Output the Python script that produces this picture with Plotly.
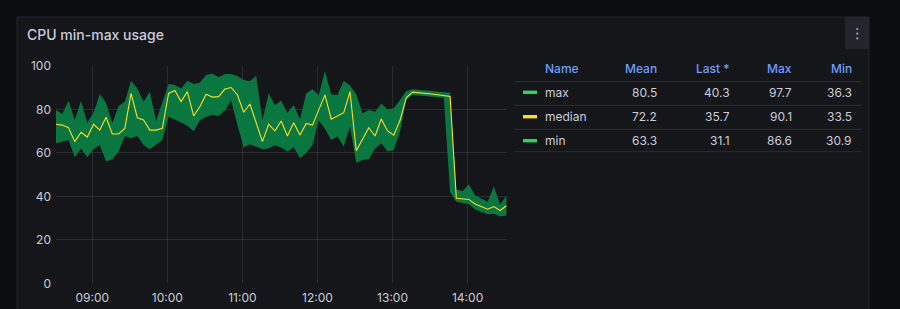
import plotly.graph_objects as go
import pandas as pd

# ---------------- data ----------------
start_time = "2024-01-01 08:31"
step_minutes = 5

median_vals = [73.2, 72.8, 71.6, 65.2, 69.5, 67.3, 73.2, 70.5, 76.4, 68.7,
               68.7, 71.3, 87.4, 76.2, 75.2, 70.5, 70.5, 71.3, 87.4, 88.7,
               83.6, 88.2, 77.0, 81.3, 87.0, 85.7, 85.9, 89.4, 90.1, 86.7,
               78.7, 82.5, 73.9, 65.2, 73.2, 70.2, 74.7, 67.8, 73.9, 68.2,
               73.6, 72.8, 79.8, 86.7, 75.5, 77.0, 78.5, 88.2, 61.0, 66.3,
               71.6, 67.8, 75.6, 70.1, 68.2, 75.0, 85.5, 88.0, 87.8, 87.5,
               87.1, 86.8, 86.4, 86.0, 39.1, 38.9, 38.6, 36.5, 35.2, 34.1,
               35.3, 33.5, 35.7]

max_vals = [79.8, 77.9, 84.0, 75.2, 84.0, 73.9, 78.5, 87.1, 83.1, 73.6,
            81.6, 83.6, 93.2, 89.7, 83.6, 88.2, 74.7, 83.6, 91.7, 91.3,
            89.7, 93.2, 91.7, 92.3, 95.9, 96.6, 94.8, 96.3, 96.3, 95.4,
            93.5, 93.0, 95.5, 75.0, 87.5, 82.0, 84.0, 78.5, 82.0, 75.5,
            87.4, 89.3, 86.7, 97.7, 87.0, 86.7, 93.2, 91.0, 87.0, 78.2,
            79.7, 79.0, 82.8, 80.1, 80.5, 84.4, 88.5, 89.3, 89.0, 88.8,
            88.5, 88.3, 88.0, 87.7, 43.0, 42.5, 45.5, 40.5, 39.0, 37.5,
            44.5, 36.3, 40.3]

min_vals = [64.4, 65.2, 66.0, 58.0, 62.0, 58.0, 61.7, 63.6, 56.0, 57.1,
            60.6, 67.8, 66.7, 67.8, 63.6, 61.7, 63.6, 65.9, 76.7, 75.5,
            74.0, 72.5, 70.0, 75.0, 76.5, 77.5, 77.0, 79.5, 84.0, 73.0,
            62.5, 64.0, 62.8, 61.7, 62.0, 63.5, 62.5, 60.6, 62.6, 57.5,
            60.0, 63.6, 75.0, 71.0, 66.0, 67.5, 63.0, 72.0, 55.5, 56.7,
            57.1, 62.0, 64.4, 60.6, 61.3, 69.8, 84.4, 86.6, 86.4, 86.2,
            86.0, 85.7, 85.4, 42.0, 37.5, 37.0, 36.5, 34.0, 33.0, 31.8,
            32.0, 30.9, 31.1]

legend_names = ["max", "median", "min"]
legend_headers = ["Name", "Mean", "Last *", "Max", "Min"]
legend_mean = ["80.5", "72.2", "63.3"]
legend_last = ["40.3", "35.7", "31.1"]
legend_max = ["97.7", "90.1", "86.6"]
legend_min = ["36.3", "33.5", "30.9"]

times = pd.date_range(start_time, periods=len(median_vals), freq=f"{step_minutes}min")

# ---------------- style ----------------
W, H = 900, 309
PAGE_BG = "#0c0d11"
PANEL_BG = "#141619"
BORDER = "#24272c"
TEXT = "#ccccdc"
BLUE = "#6e9fff"
GREEN_LINE = "#2bd65f"
GREEN_FILL = "#0b7740"
YELLOW = "#fade2a"
GRID = "rgba(204,204,220,0.12)"
FONT = "Inter, Roboto, sans-serif"


def fx(px):
    return px / W


def fy(py):
    return 1 - py / H


plot_left, plot_right = 56, 507
plot_top, plot_bottom = 66, 283.3

fig = go.Figure()
fig.add_trace(go.Scatter(x=times, y=min_vals, mode="lines", line=dict(width=0, color=GREEN_LINE),
                         name="min", hoverinfo="skip"))
fig.add_trace(go.Scatter(x=times, y=max_vals, mode="lines", line=dict(width=0, color=GREEN_LINE),
                         fill="tonexty", fillcolor=GREEN_FILL, name="max", hoverinfo="skip"))
fig.add_trace(go.Scatter(x=times, y=median_vals, mode="lines", line=dict(width=1.1, color=YELLOW),
                         name="median", hoverinfo="skip"))

shapes = []
# panel (kept inside the paper)
shapes.append(dict(type="rect", xref="paper", yref="paper", x0=fx(17), x1=fx(869), y0=0, y1=fy(17),
                   fillcolor=PANEL_BG, line=dict(width=0), layer="below"))
for seg in [((17, 17), (869, 17)), ((17, 17), (17, 309)), ((869, 17), (869, 309))]:
    (ax, ay), (bx, by) = seg
    shapes.append(dict(type="line", xref="paper", yref="paper", x0=fx(ax), x1=fx(bx), y0=fy(ay), y1=fy(by),
                       line=dict(color=BORDER, width=1), layer="below"))
# menu button
shapes.append(dict(type="rect", xref="paper", yref="paper", x0=fx(845), x1=fx(869), y0=fy(49), y1=fy(17),
                   fillcolor="#22252b", line=dict(width=0), layer="below"))
for dy in (29, 33.7, 38.4):
    shapes.append(dict(type="circle", xref="paper", yref="paper", x0=fx(856.2), x1=fx(858.4),
                       y0=fy(dy + 1.1), y1=fy(dy - 1.1), fillcolor="#a0a3ab", line=dict(width=0)))

# legend table separators
for sy in (81.7, 105.3, 129.3, 151.7):
    shapes.append(dict(type="line", xref="paper", yref="paper", x0=fx(515), x1=fx(861), y0=fy(sy), y1=fy(sy),
                       line=dict(color="#2a2d33", width=1)))

row_y = [92.3, 116.7, 140.7]
marker_colors = [GREEN_LINE, YELLOW, GREEN_LINE]
for ry, mc in zip(row_y, marker_colors):
    shapes.append(dict(type="rect", xref="paper", yref="paper", x0=fx(523), x1=fx(537), y0=fy(ry + 1.7),
                       y1=fy(ry - 1.7), fillcolor=mc, line=dict(width=0)))

annotations = []
annotations.append(dict(text="CPU min-max usage", x=fx(24.5), y=fy(34.0), xref="paper", yref="paper",
                        xanchor="left", yanchor="middle", showarrow=False,
                        font=dict(family=FONT, size=14, color=TEXT, weight=500)))

header_y = 68.3
col_right = [658.8, 731.5, 794.2, 853.8]
name_left = 543
annotations.append(dict(text=legend_headers[0], x=fx(name_left), y=fy(header_y), xref="paper", yref="paper",
                        xanchor="left", yanchor="middle", showarrow=False,
                        font=dict(family=FONT, size=12, color=BLUE, weight=500)))
for h, cx in zip(legend_headers[1:], col_right):
    annotations.append(dict(text=h, x=fx(cx), y=fy(header_y), xref="paper", yref="paper",
                            xanchor="right", yanchor="middle", showarrow=False,
                            font=dict(family=FONT, size=12, color=BLUE, weight=500)))

for i, ry in enumerate(row_y):
    annotations.append(dict(text=legend_names[i], x=fx(name_left), y=fy(ry), xref="paper", yref="paper",
                            xanchor="left", yanchor="middle", showarrow=False,
                            font=dict(family=FONT, size=12, color=TEXT)))
    for vals, cx in zip([legend_mean, legend_last, legend_max, legend_min], col_right):
        annotations.append(dict(text=vals[i], x=fx(cx), y=fy(ry), xref="paper", yref="paper",
                                xanchor="right", yanchor="middle", showarrow=False,
                                font=dict(family=FONT, size=12, color=TEXT)))

fig.update_layout(
    width=W, height=H,
    margin=dict(l=0, r=0, t=0, b=0, pad=0, autoexpand=False),
    paper_bgcolor=PAGE_BG,
    plot_bgcolor="rgba(0,0,0,0)",
    showlegend=False,
    shapes=shapes,
    annotations=annotations,
    font=dict(family=FONT, color=TEXT, size=12),
    xaxis=dict(
        domain=[fx(plot_left), fx(plot_right)],
        range=["2024-01-01 08:31:00", "2024-01-01 14:31:30"],
        type="date",
        tickformat="%H:%M",
        dtick=3600000,
        tick0="2024-01-01 09:00",
        showgrid=True, gridcolor=GRID, gridwidth=1,
        zeroline=False, showline=False,
        ticks="", ticklabelstandoff=6,
        tickfont=dict(family=FONT, size=12, color=TEXT),
        fixedrange=True, automargin=False,
    ),
    yaxis=dict(
        domain=[fy(plot_bottom), fy(plot_top)],
        range=[0, 100],
        dtick=20,
        showgrid=True, gridcolor=GRID, gridwidth=1,
        zeroline=False, showline=False,
        ticks="", ticklabelstandoff=4,
        tickfont=dict(family=FONT, size=12, color=TEXT),
        fixedrange=True, automargin=False,
    ),
)

fig.write_html(
    "out.html",
    config={"displayModeBar": False},
    post_script="document.body.style.margin='0';document.body.style.overflow='hidden';"
                "document.body.style.background='" + PAGE_BG + "';",
)
